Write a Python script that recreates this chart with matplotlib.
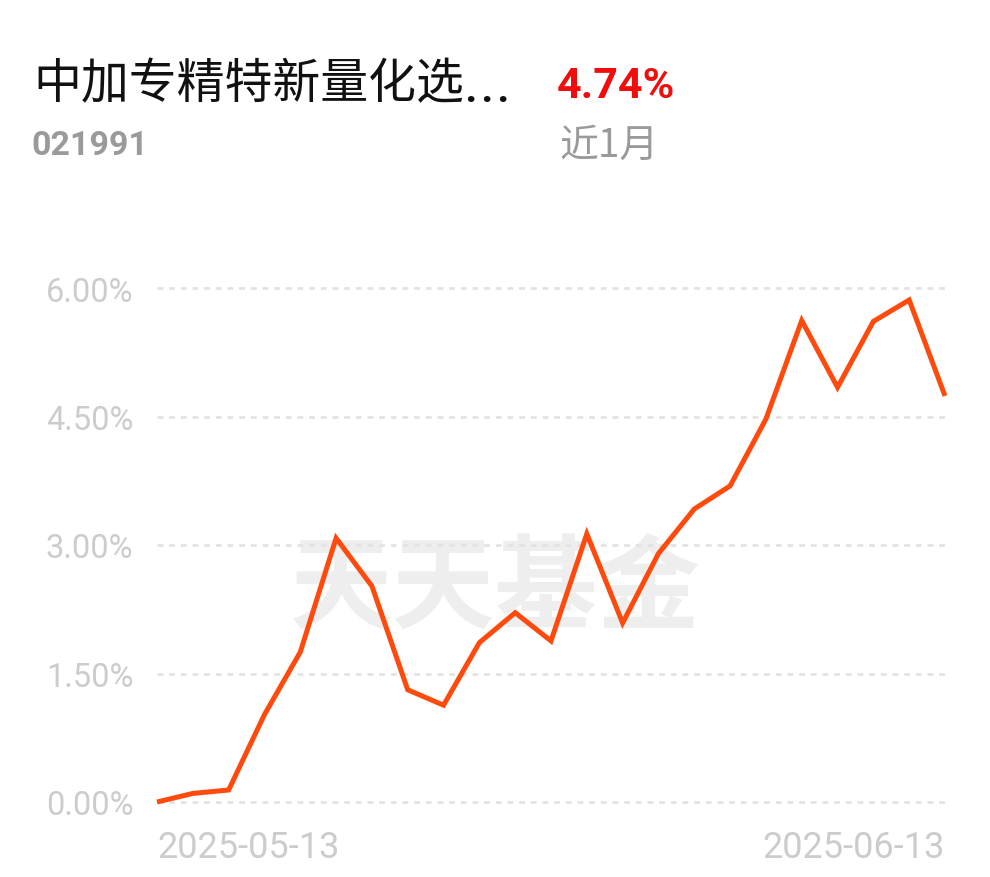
import matplotlib
matplotlib.use("Agg")
import matplotlib.pyplot as plt
from matplotlib.ticker import FixedLocator, NullLocator

# ---- data ----
fund_name = "中加专精特新量化选"
fund_code = "021991"
period_label = "近1月"
period_return = "4.74%"
dates = ["2025-05-13", "2025-05-14", "2025-05-15", "2025-05-16", "2025-05-19",
         "2025-05-20", "2025-05-21", "2025-05-22", "2025-05-23", "2025-05-26",
         "2025-05-27", "2025-05-28", "2025-05-29", "2025-05-30", "2025-06-03",
         "2025-06-04", "2025-06-05", "2025-06-06", "2025-06-09", "2025-06-10",
         "2025-06-11", "2025-06-12", "2025-06-13"]
returns = [0.00, 0.10, 0.14, 1.02, 1.75, 3.08, 2.52, 1.31, 1.13, 1.86,
           2.21, 1.88, 3.13, 2.09, 2.90, 3.42, 3.69, 4.47, 5.62, 4.84,
           5.61, 5.86, 4.74]
y_ticks = [0.0, 1.5, 3.0, 4.5, 6.0]
y_tick_labels = ["0.00%", "1.50%", "3.00%", "4.50%", "6.00%"]
x_tick_labels = ["2025-05-13", "2025-06-13"]
watermark = "天天基金"

W, H = 990, 878
fig = plt.figure(figsize=(W / 100, H / 100), dpi=100)
fig.patch.set_facecolor("white")

cjk = ["Noto Sans CJK SC", "DejaVu Sans"]
num_font = ["Roboto", "DejaVu Sans"]

# axes placed in pixel coordinates
x0, x1 = 157, 945
y0, y1 = 803, 289
ax = fig.add_axes([x0 / W, 1 - y0 / H, (x1 - x0) / W, (y0 - y1) / H])
ax.set_facecolor("none")
for s in ax.spines.values():
    s.set_visible(False)

xs = list(range(len(dates)))
ax.set_xlim(0, len(dates) - 1)
ax.set_ylim(0, 6.0)

# watermark (behind everything in the axes)
ax.text(495 / W, 1 - 590 / H, watermark, transform=fig.transFigure, family=cjk,
        fontsize=74, fontweight="bold", color="#eeeeee", ha="center", va="center",
        zorder=0)

# grid lines
for yv in y_ticks:
    ax.axhline(yv, color="#e3e3e3", lw=2.0, linestyle=(0, (2.1, 2.1)), zorder=1,
               clip_on=False)

# line
ax.plot(xs, returns, color="#ff4a0d", lw=3.6, solid_joinstyle="miter",
        solid_capstyle="butt", clip_on=False, zorder=3)

ax.yaxis.set_major_locator(FixedLocator(y_ticks))
ax.set_yticklabels(y_tick_labels)
ax.tick_params(axis="y", length=0, pad=17, labelsize=23.5, labelcolor="#cccccc")
for lab in ax.get_yticklabels():
    lab.set_family(num_font)
ax.xaxis.set_major_locator(NullLocator())

# x labels at first and last date
ax.text(0, -0.31, x_tick_labels[0], transform=ax.transData, ha="left", va="top",
        fontsize=26, color="#cccccc", family=num_font)
ax.text(len(dates) - 1, -0.31, x_tick_labels[1], transform=ax.transData, ha="right",
        va="top", fontsize=26, color="#cccccc", family=num_font)

# header
fig.text(33 / W, 1 - 84 / H, fund_name, family=cjk, fontsize=34.5, color="#111111",
         ha="left", va="center")
for dx in (470, 486, 502):
    fig.text(dx / W, 1 - 101 / H, "\u00b7", family=num_font, fontsize=30,
             fontweight="bold", color="#111111", ha="center", va="center")
fig.text(557 / W, 1 - 86 / H, period_return, family=num_font, fontsize=31,
         fontweight="bold", color="#f20d0d", ha="left", va="center")
fig.text(31 / W, 1 - 146 / H, fund_code, family=num_font, fontsize=24.5,
         fontweight="bold", color="#9a9a9a", ha="left", va="center")
fig.text(559 / W, 1 - 146 / H, period_label, family=cjk, fontsize=28, color="#9a9a9a",
         ha="left", va="center")

fig.savefig("out.png", dpi=100, facecolor="white")
